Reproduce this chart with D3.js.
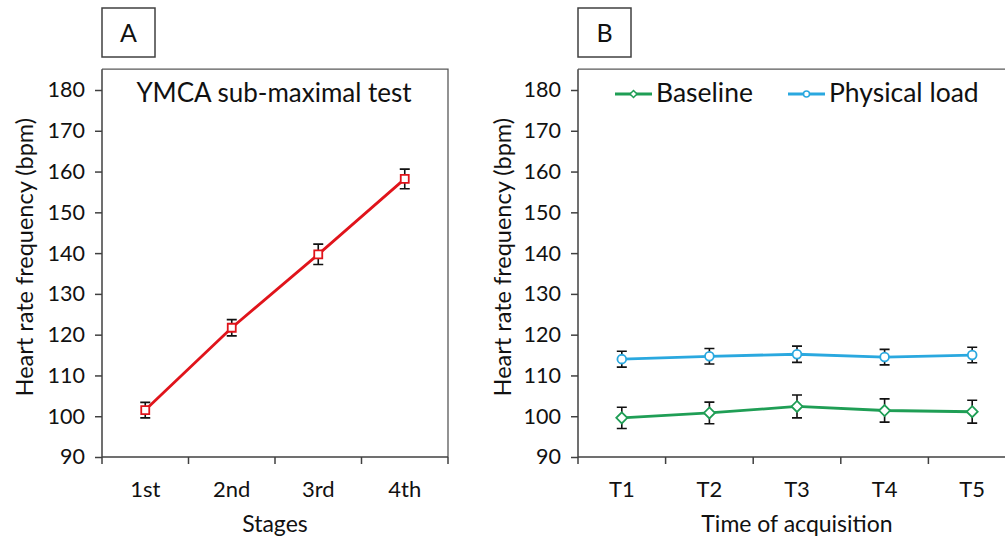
<!DOCTYPE html>
<html>
<head>
<meta charset="utf-8">
<script src="https://cdn.jsdelivr.net/npm/d3@7"></script>
<style>
  body { margin: 0; background: #fff; }
  svg { display: block; font-family: Lato, "Open Sans", sans-serif; }
</style>
</head>
<body>
<div id="chart"></div>
<script>
// panel A data
var stages = ['1st', '2nd', '3rd', '4th'];
var ymcaMean = [101.5, 121.7, 139.7, 158.2];
var ymcaErr = [1.9, 2.0, 2.5, 2.4];

// panel B data
var times = ['T1', 'T2', 'T3', 'T4', 'T5'];
var baselineMean = [99.6, 100.8, 102.4, 101.4, 101.1];
var baselineErr = [2.6, 2.65, 2.8, 2.85, 2.8];
var loadMean = [114.0, 114.7, 115.2, 114.5, 115.0];
var loadErr = [1.95, 1.9, 2.0, 1.9, 1.9];

var yTicks = [90, 100, 110, 120, 130, 140, 150, 160, 170, 180];

var red = '#e0141b';
var green = '#1f9e55';
var blue = '#2aa8df';
var axisColor = '#404040';

var svg = d3.select('#chart')
    .append('svg')
    .attr('width', 1005)
    .attr('height', 538);

function panel(opts) {
    var x = d3.scaleBand().domain(opts.cats).range([opts.left, opts.right]);
    var y = d3.scaleLinear().domain([90, 180]).range([457, 90]);
    var g = svg.append('g');

    // plot frame (top + right)
    g.append('path')
        .attr('d', `M${opts.left},${y(185.1)}H${opts.right}V${y(90)}`)
        .attr('fill', 'none')
        .attr('stroke', '#595959')
        .attr('stroke-width', 1.3);

    var yAxis = g.append('g')
        .attr('transform', `translate(${opts.left},0)`)
        .call(d3.axisLeft(y).tickValues(yTicks).tickSize(7).tickPadding(10));
    yAxis.select('.domain').attr('d', `M0,${y(185.1)}V${y(90)}`);
    yAxis.selectAll('.tick text').style('font-size', '21.5px');

    var xAxis = g.append('g')
        .attr('transform', `translate(0,${y(90)})`)
        .call(d3.axisBottom(x).tickSize(0).tickPadding(24));
    xAxis.select('.domain').attr('d', `M${opts.left},0H${opts.right}`);
    xAxis.selectAll('.tick text').style('font-size', '22px');
    xAxis.selectAll('.bound')
        .data(opts.cats.map((c) => x(c)).concat([opts.right]))
        .enter()
        .append('line')
        .attr('x1', (d) => d)
        .attr('x2', (d) => d)
        .attr('y1', 0)
        .attr('y2', 7)
        .attr('stroke', axisColor)
        .attr('stroke-width', 1.5);

    // let the tick labels use the page font
    g.selectAll('g').attr('font-family', null).attr('font-size', null);
    g.selectAll('.domain, .tick line')
        .attr('stroke', axisColor)
        .attr('stroke-width', 1.5);
    g.selectAll('.tick text').attr('fill', '#111');

    g.append('text')
        .attr('transform', `translate(${opts.yTitleX},${y(139)}) rotate(-90)`)
        .attr('text-anchor', 'middle')
        .attr('dy', '0.35em')
        .style('font-size', '23.5px')
        .attr('fill', '#111')
        .text('Heart rate frequency (bpm)');

    g.append('text')
        .attr('x', (opts.left + opts.right) / 2)
        .attr('y', 532)
        .attr('text-anchor', 'middle')
        .style('font-size', '23px')
        .attr('fill', '#111')
        .text(opts.xTitle);

    // letter box
    g.append('rect')
        .attr('x', opts.left)
        .attr('y', 8)
        .attr('width', 53)
        .attr('height', 49)
        .attr('fill', 'none')
        .attr('stroke', '#404040')
        .attr('stroke-width', 1.5);
    g.append('text')
        .attr('x', opts.left + 26.5)
        .attr('y', 42)
        .attr('text-anchor', 'middle')
        .style('font-size', '25px')
        .attr('fill', '#111')
        .text(opts.letter);

    return { g: g, x: x, y: y };
}

function series(p, cats, mean, err, color, marker) {
    var cx = (i) => p.x(cats[i]) + p.x.bandwidth() / 2;
    var line = d3.line()
        .x((d, i) => cx(i))
        .y((d) => p.y(d));
    p.g.append('path')
        .datum(mean)
        .attr('d', line)
        .attr('fill', 'none')
        .attr('stroke', color)
        .attr('stroke-width', 2.8);

    var eb = p.g.append('g')
        .attr('stroke', '#111')
        .attr('stroke-width', 1.6)
        .attr('fill', 'none');
    mean.forEach((m, i) => {
        var x0 = cx(i), top = p.y(m + err[i]), bot = p.y(m - err[i]);
        eb.append('path')
            .attr('d', `M${x0},${top}V${bot}M${x0 - 5},${top}H${x0 + 5}M${x0 - 5},${bot}H${x0 + 5}`);
    });

    p.g.selectAll(null)
        .data(mean)
        .enter()
        .append('path')
        .attr('transform', (d, i) => `translate(${cx(i)},${p.y(d)})`)
        .attr('d', marker)
        .attr('fill', '#fff')
        .attr('stroke', color)
        .attr('stroke-width', 1.8);
}

var square = d3.symbol().type(d3.symbolSquare).size(64)();
var diamond = 'M0,-5.5L5.5,0L0,5.5L-5.5,0Z';
var circle = d3.symbol().type(d3.symbolCircle).size(60)();

// panel A
var pA = panel({ cats: stages, left: 102, right: 448, yTitleX: 25, xTitle: 'Stages', letter: 'A' });
series(pA, stages, ymcaMean, ymcaErr, red, square);
pA.g.append('text')
    .attr('x', 274)
    .attr('y', 102)
    .attr('text-anchor', 'middle')
    .style('font-size', '26px')
    .attr('fill', '#111')
    .text('YMCA sub-maximal test');

// panel B
var pB = panel({ cats: times, left: 578, right: 1016, yTitleX: 503, xTitle: 'Time of acquisition', letter: 'B' });
series(pB, times, loadMean, loadErr, blue, circle);
series(pB, times, baselineMean, baselineErr, green, diamond);

// legend
var legend = [
    { name: 'Baseline', color: green, marker: 'M0,-3.5L3.5,0L0,3.5L-3.5,0Z', x: 615 },
    { name: 'Physical load', color: blue, marker: d3.symbol().type(d3.symbolCircle).size(28)(), x: 788 }
];
var lg = svg.append('g').selectAll('g')
    .data(legend)
    .enter()
    .append('g')
    .attr('transform', (d) => `translate(${d.x},94)`);
lg.append('line')
    .attr('x1', 0).attr('x2', 37)
    .attr('stroke', (d) => d.color)
    .attr('stroke-width', 2.8);
lg.append('path')
    .attr('transform', 'translate(18.5,0)')
    .attr('d', (d) => d.marker)
    .attr('fill', '#fff')
    .attr('stroke', (d) => d.color)
    .attr('stroke-width', 1.5);
lg.append('text')
    .attr('x', 41)
    .attr('y', 8)
    .style('font-size', '26.5px')
    .attr('fill', '#111')
    .text((d) => d.name);
</script>
</body>
</html>
